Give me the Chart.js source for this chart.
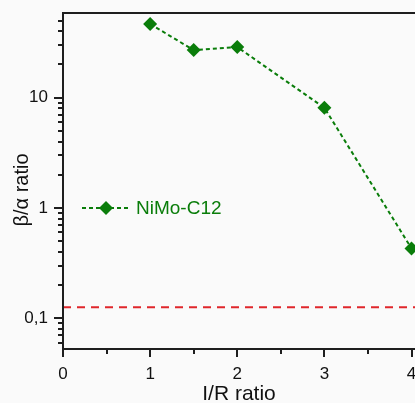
<!DOCTYPE html>
<html>
<head>
<meta charset="utf-8">
<script src="https://cdn.jsdelivr.net/npm/chart.js@4.4.0/dist/chart.umd.min.js"></script>
<style>
  html, body { margin: 0; padding: 0; background: #fafafa; }
  #wrap { width: 415px; height: 403px; }
</style>
</head>
<body>
<div id="wrap"><canvas id="myChart"></canvas></div>
<script>
// I/R ratio vs beta/alpha ratio
const irRatio = [1, 1.5, 2, 3, 4];
const betaAlpha = [46.6, 27, 28.8, 8.1, 0.43];
const seriesName = 'NiMo-C12';
const thresholdValue = 0.126;
const xTickValues = [0, 0.5, 1, 1.5, 2, 2.5, 3, 3.5, 4];
const yLabelText = { '0.1': '0,1', '1': '1', '10': '10' };
const yTitle = 'β/α ratio';

const green = '#0a7d0a';
const red = '#e0262b';
const axisColor = '#1e1e1e';
const fontFamily = 'Arial, "Liberation Sans", sans-serif';

var xMin = 0, xMax = 4.04;
var yMin = 0.0527, yMax = 58.6;

function logTicks(min, max) {
  var out = [];
  for (var e = -3; e <= 3; e++) {
    for (var m = 1; m <= 9; m++) {
      var v = +(m * Math.pow(10, e)).toPrecision(3);
      if (v >= min && v <= max) out.push(v);
    }
  }
  return out;
}

// axis frame, tick marks, y title and the inline legend
const framePlugin = {
  id: 'frame',
  beforeDraw(chart) {
    const c = chart.ctx;
    c.save();
    c.fillStyle = '#fafafa';
    c.fillRect(0, 0, chart.width, chart.height);
    c.restore();
  },
  afterDraw(chart) {
    const c = chart.ctx;
    const a = chart.chartArea;
    const xs = chart.scales.x, ys = chart.scales.y;
    c.save();
    c.strokeStyle = axisColor;
    c.lineWidth = 2;
    c.beginPath();
    c.moveTo(a.left, a.top); c.lineTo(chart.width, a.top);
    c.moveTo(a.left, a.top - 1); c.lineTo(a.left, a.bottom + 1);
    c.moveTo(a.left - 1, a.bottom); c.lineTo(chart.width, a.bottom);
    c.stroke();

    c.beginPath();
    ys.ticks.forEach(t => {
      var y = Math.round(ys.getPixelForValue(t.value));
      var major = yLabelText[String(t.value)] !== undefined;
      c.moveTo(a.left, y); c.lineTo(a.left - (major ? 9 : 5), y);
    });
    xs.ticks.forEach(t => {
      var x = Math.round(xs.getPixelForValue(t.value));
      var major = Number.isInteger(t.value);
      c.moveTo(x, a.bottom); c.lineTo(x, a.bottom + (major ? 8 : 5));
    });
    c.stroke();

    // y axis title
    c.save();
    c.translate(22, 190);
    c.rotate(-Math.PI / 2);
    c.fillStyle = '#111';
    c.font = '20px ' + fontFamily;
    c.textAlign = 'center';
    c.textBaseline = 'middle';
    c.fillText(yTitle, 0, 0);
    c.restore();

    // legend sample
    var ly = ys.getPixelForValue(1);
    c.strokeStyle = green;
    c.lineWidth = 2;
    c.setLineDash([4, 3]);
    c.beginPath();
    c.moveTo(82, ly); c.lineTo(131, ly);
    c.stroke();
    c.setLineDash([]);
    c.fillStyle = green;
    c.beginPath();
    c.moveTo(106, ly - 7); c.lineTo(113, ly); c.lineTo(106, ly + 7); c.lineTo(99, ly);
    c.closePath();
    c.fill();
    c.font = '19px ' + fontFamily;
    c.textBaseline = 'middle';
    c.fillText(seriesName, 136, ly + 1);
    c.restore();
  }
};

const ctx = document.getElementById('myChart').getContext('2d');
const myChart = new Chart(ctx, {
  type: 'line',
  data: {
    datasets: [{
      label: seriesName,
      data: irRatio.map((x, i) => ({ x: x, y: betaAlpha[i] })),
      borderColor: green,
      backgroundColor: green,
      borderWidth: 2,
      borderDash: [4, 3],
      pointStyle: 'rectRot',
      pointRadius: 7,
      pointHoverRadius: 7,
      pointBorderWidth: 0,
      tension: 0,
      clip: false
    }, {
      label: 'threshold',
      data: [{ x: xMin, y: thresholdValue }, { x: xMax, y: thresholdValue }],
      borderColor: red,
      borderWidth: 2,
      borderDash: [8, 6],
      pointRadius: 0
    }]
  },
  options: {
    responsive: true,
    maintainAspectRatio: false,
    animation: false,
    events: [],
    layout: { autoPadding: false, padding: { top: 13, right: 0, left: 0, bottom: 0 } },
    plugins: {
      legend: { display: false },
      tooltip: { enabled: false }
    },
    scales: {
      x: {
        type: 'linear',
        min: xMin,
        max: xMax,
        afterBuildTicks: s => { s.ticks = xTickValues.map(v => ({ value: v })); },
        afterFit: s => { s.height = 54; s.paddingLeft = 0; s.paddingRight = 0; },
        grid: { display: false, drawTicks: false },
        border: { display: false },
        ticks: {
          autoSkip: false,
          maxRotation: 0,
          padding: 15,
          color: '#111',
          font: { size: 17, family: fontFamily },
          callback: v => Number.isInteger(v) ? String(v) : ''
        },
        title: {
          display: true,
          text: 'I/R ratio',
          color: '#111',
          font: { size: 21, family: fontFamily },
          padding: { top: 0, bottom: -4 }
        }
      },
      y: {
        type: 'logarithmic',
        min: yMin,
        max: yMax,
        afterBuildTicks: s => { s.ticks = logTicks(yMin, yMax).map(v => ({ value: v })); },
        afterFit: s => { s.width = 63; s.paddingTop = 0; s.paddingBottom = 0; },
        grid: { display: false, drawTicks: false },
        border: { display: false },
        ticks: {
          autoSkip: false,
          padding: 15,
          color: '#111',
          font: { size: 17, family: fontFamily },
          callback: v => yLabelText[String(v)] || ''
        },
        title: { display: false }
      }
    }
  },
  plugins: [framePlugin]
});
</script>
</body>
</html>
